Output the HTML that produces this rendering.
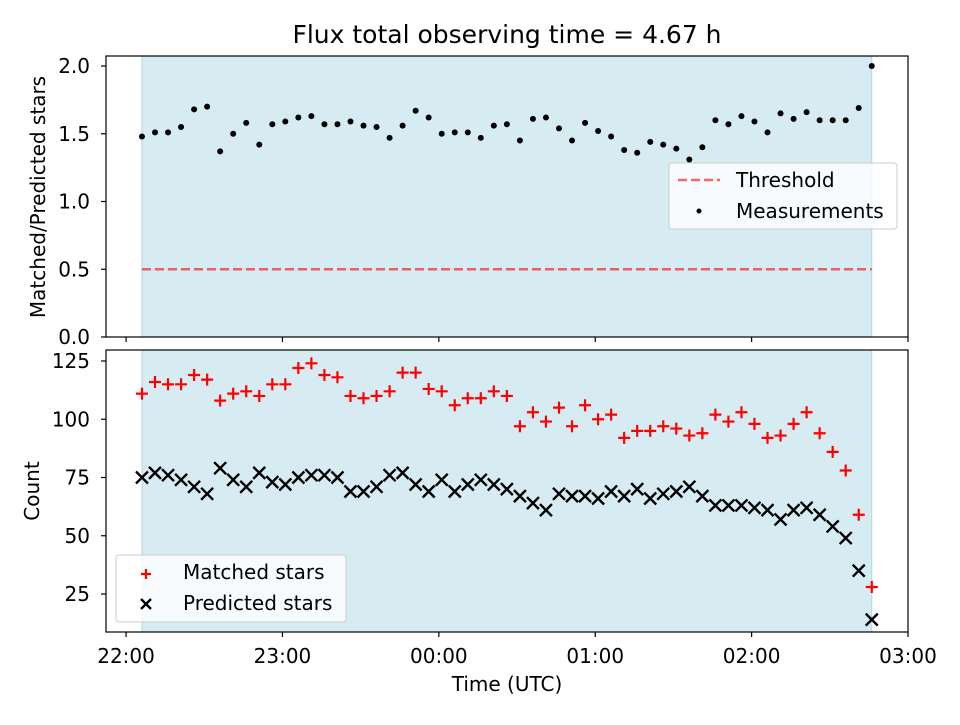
<!DOCTYPE html>
<html><head><meta charset="utf-8"><style>
body{margin:0;background:#fff;}
svg{font-family:"DejaVu Sans","Liberation Sans",sans-serif;}
</style></head><body>
<svg id="chart" width="960" height="720" xmlns="http://www.w3.org/2000/svg"></svg>
<script>
const timesStartMin = 6.1;
const stepMin = 5;
const ratioValues = [1.48,1.51,1.51,1.55,1.68,1.70,1.37,1.50,1.58,1.42,1.57,1.59,1.62,1.63,1.57,1.57,1.59,1.56,1.55,1.47,1.56,1.67,1.62,1.50,1.51,1.51,1.47,1.56,1.57,1.45,1.61,1.62,1.54,1.45,1.58,1.52,1.48,1.38,1.36,1.44,1.42,1.39,1.31,1.40,1.60,1.57,1.63,1.59,1.51,1.65,1.61,1.66,1.60,1.60,1.60,1.69,2.00];
const matchedValues = [111,116,115,115,119,117,108,111,112,110,115,115,122,124,119,118,110,109,110,112,120,120,113,112,106,109,109,112,110,97,103,99,105,97,106,100,102,92,95,95,97,96,93,94,102,99,103,98,92,93,98,103,94,86,78,59,28];
const predictedValues = [75,77,76,74,71,68,79,74,71,77,73,72,75,76,76,75,69,69,71,76,77,72,69,74,69,72,74,72,70,67,64,61,68,67,67,66,69,67,70,66,68,69,71,67,63,63,63,62,61,57,61,62,59,54,49,35,14];
const thresholdValue = 0.5;
const xTickMinutes = [0,60,120,180,240,300];
const xTickLabels = ["22:00","23:00","00:00","01:00","02:00","03:00"];
const topYTicks = [0.0,0.5,1.0,1.5,2.0];
const botYTicks = [25,50,75,100,125];

const svg = document.getElementById('chart');
const NS = 'http://www.w3.org/2000/svg';
function mk(tag, attrs, parent){ const e=document.createElementNS(NS,tag); for(const k in attrs) e.setAttribute(k,attrs[k]); (parent||svg).appendChild(e); return e; }
const L=106,R=908, T1=56,B1=337, T2=350,B2=632;
const xMin=-7.7,xMax=300;
const sx = m => L+(m-xMin)/(xMax-xMin)*(R-L);
const syTop = v => 337 - v*135.5;
const syBot = v => 594 - (v-25)*(233/100);
const times = ratioValues.map((_,i)=>timesStartMin+stepMin*i);
const spanStart = times[0], spanEnd = times[times.length-1];
const FS = '20';

const ttl=mk('text',{x:507,y:43,'text-anchor':'middle','font-size':'25'}); ttl.textContent='Flux total observing time = 4.67 h';
 

[[T1,B1,'top'],[T2,B2,'bottom']].forEach(([t,b,n])=>{
  const s=mk('rect',{x:sx(spanStart),y:t,width:sx(spanEnd)-sx(spanStart),height:b-t,fill:'#add8e6','fill-opacity':'0.5',stroke:'#add8e6','stroke-width':1});
  
  
});

const th=mk('line',{x1:sx(spanStart),x2:sx(spanEnd),y1:syTop(thresholdValue),y2:syTop(thresholdValue),stroke:'#ff0000','stroke-opacity':'0.6','stroke-width':2.5,'stroke-dasharray':'9,4'});



ratioValues.forEach((v,i)=>{
  const c=mk('circle',{cx:sx(times[i]),cy:syTop(v),r:3,fill:'#000'});
  
  
});
function plus(x,y,parent,s){ s=s||6; return mk('path',{d:`M${x-s},${y}H${x+s}M${x},${y-s}V${y+s}`,stroke:'#ff0000','stroke-width':2.2,fill:'none'},parent); }
function cross(x,y,parent,s){ s=s||6; return mk('path',{d:`M${x-s},${y-s}L${x+s},${y+s}M${x-s},${y+s}L${x+s},${y-s}`,stroke:'#000','stroke-width':2.4,fill:'none'},parent); }
matchedValues.forEach((v,i)=>{
  const p=plus(sx(times[i]),syBot(v));
  
  
});
predictedValues.forEach((v,i)=>{
  const p=cross(sx(times[i]),syBot(v));
  
  
});

[[T1,B1,'top'],[T2,B2,'bottom']].forEach(([t,b,n])=>{
  const f=mk('rect',{x:L,y:t,width:R-L,height:b-t,fill:'none',stroke:'#000','stroke-width':1.2});
  
  
  xTickMinutes.forEach(m=>{ mk('line',{x1:sx(m),x2:sx(m),y1:b,y2:b+5,stroke:'#000','stroke-width':1.2}); });
});
xTickMinutes.forEach((m,i)=>{
  const t=mk('text',{x:sx(m),y:663,'text-anchor':'middle','font-size':FS});
  t.textContent=xTickLabels[i];
  
  
});
topYTicks.forEach(v=>{
  const y=syTop(v); mk('line',{x1:L-5,x2:L,y1:y,y2:y,stroke:'#000','stroke-width':1.2});
  const t=mk('text',{x:L-16,y:y+7,'text-anchor':'end','font-size':FS}); t.textContent=v.toFixed(1);
  
  
});
botYTicks.forEach(v=>{
  const y=syBot(v); mk('line',{x1:L-5,x2:L,y1:y,y2:y,stroke:'#000','stroke-width':1.2});
  const t=mk('text',{x:L-16,y:y+7,'text-anchor':'end','font-size':FS}); t.textContent=v;
  
  
});
const xt=mk('text',{x:507,y:691,'text-anchor':'middle','font-size':FS}); xt.textContent='Time (UTC)';
 
const y1=mk('text',{x:45,y:197,'text-anchor':'middle','font-size':FS,transform:'rotate(-90 45 197)'}); y1.textContent='Matched/Predicted stars';
 
const y2=mk('text',{x:39,y:491,'text-anchor':'middle','font-size':FS,transform:'rotate(-90 39 491)'}); y2.textContent='Count';
 

const lg1=mk('g',{});  
mk('rect',{x:669,y:163,width:228,height:66,rx:3,fill:'#fff','fill-opacity':'0.8',stroke:'#ccc'},lg1);
mk('line',{x1:678,x2:720,y1:180,y2:180,stroke:'#ff0000','stroke-opacity':'0.6','stroke-width':2.5,'stroke-dasharray':'9,4'},lg1);
mk('text',{x:736,y:187,'font-size':FS},lg1).textContent='Threshold';
mk('circle',{cx:699,cy:211,r:2.5,fill:'#000'},lg1);
mk('text',{x:736,y:218,'font-size':FS},lg1).textContent='Measurements';
const lg2=mk('g',{});  
mk('rect',{x:116,y:555,width:230,height:67,rx:3,fill:'#fff','fill-opacity':'0.8',stroke:'#ccc'},lg2);
plus(146,574,lg2,5);
mk('text',{x:183,y:579,'font-size':FS},lg2).textContent='Matched stars';
cross(146,604,lg2,5);
mk('text',{x:183,y:610,'font-size':FS},lg2).textContent='Predicted stars';
</script>
</body></html>
